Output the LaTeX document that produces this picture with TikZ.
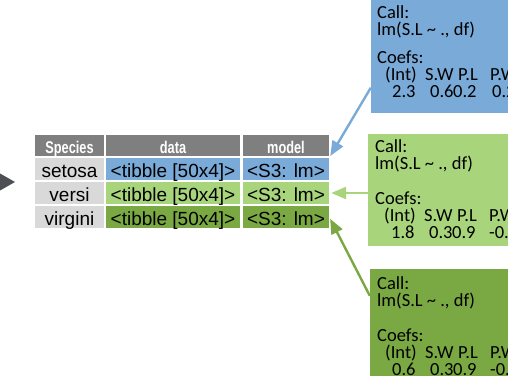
\documentclass[tikz,border=0pt]{standalone}
\usepackage{fontspec}
\setmainfont{Liberation Sans}
\newfontfamily\hdrfont[FakeStretch=0.75]{Liberation Sans}
\newfontfamily\outfont{Carlito}
\usetikzlibrary{positioning,arrows.meta}

\definecolor{fitblue}{RGB}{122,170,216}
\definecolor{fitlight}{RGB}{168,212,124}
\definecolor{fitdark}{RGB}{122,168,66}
\definecolor{hdrgray}{RGB}{127,127,127}
\definecolor{spgray}{RGB}{217,217,217}
\definecolor{pipegray}{RGB}{77,79,85}

\tikzset{
  cell/.style={inner sep=0pt,text height=19pt,text depth=3pt,minimum height=22pt,
    font=\fontsize{19}{19}\selectfont},
  hdr/.style={fill=hdrgray,text=white,inner sep=0pt,text height=18pt,text depth=3pt,
    minimum height=21pt,font=\hdrfont\bfseries\fontsize{17}{17}\selectfont},
  spcol/.style={cell,fill=spgray,minimum width=69pt},
  datacol/.style={cell,minimum width=134pt},
  modelcol/.style={cell,minimum width=86pt},
  fitbox/.style={inner sep=0pt,draw=none},
  outtxt/.style={anchor=base west,inner sep=0pt,font=\outfont\fontsize{18.5}{18.5}\selectfont},
  conn/.style={line width=2.4pt,-{Triangle[length=15pt,width=12pt]},shorten >=2pt},
}

\begin{document}
\begin{tikzpicture}[x=1pt,y=-1pt]
\useasboundingbox (0,0) rectangle (508,375);
\clip (0,0) rectangle (508,375);
%% pipe
\fill [pipegray] (-4,171.2) -- (15,182) -- (-4,192.8) -- cycle;
%% nested table
\node (sp-h) at (69.5,145.5) [hdr,minimum width=69pt] {Species};
\node (data-h) at (173,145.5) [hdr,minimum width=134pt] {data};
\node (model-h) at (286,145.5) [hdr,minimum width=86pt] {model};
\node (sp1) at (69.5,169) [spcol] {setosa};
\node (data1) at (173,169) [datacol,fill=fitblue] {<tibble [50x4]>};
\node (model1) at (286,169) [modelcol,fill=fitblue] {<S3: lm>};
\node (sp2) at (69.5,193) [spcol] {versi};
\node (data2) at (173,193) [datacol,fill=fitlight] {<tibble [50x4]>};
\node (model2) at (286,193) [modelcol,fill=fitlight] {<S3: lm>};
\node (sp3) at (69.5,217) [spcol] {virgini};
\node (data3) at (173,217) [datacol,fill=fitdark] {<tibble [50x4]>};
\node (model3) at (286,217) [modelcol,fill=fitdark] {<S3: lm>};
%% model outputs
\node (fit1) at (455.5,46.25) [fitbox,fill=fitblue,minimum width=169pt,minimum height=132.5pt] {};
\node (fit2) at (454,190) [fitbox,fill=fitlight,minimum width=172pt,minimum height=112pt] {};
\node (fit3) at (455,344.5) [fitbox,fill=fitdark,minimum width=170pt,minimum height=151pt] {};
%
\node (call1) at (377,18) [outtxt] {Call:};
\node (form1) at (377,35) [outtxt] {lm(S.L \textasciitilde{} ., df)};
\node (coef1) at (377,63) [outtxt] {Coefs:};
\node (int1) at (385,80) [outtxt] {(Int)};
\node (sw1) at (425,80) [outtxt] {S.W};
\node (pl1) at (458,80) [outtxt] {P.L};
\node (pw1) at (490,80) [outtxt] {P.W};
\node (v1a) at (392,97) [outtxt] {2.3};
\node (v1b) at (430,97) [outtxt] {0.6};
\node (v1c) at (453,97) [outtxt] {0.2};
\node (v1d) at (492,97) [outtxt] {0.2};
%
\node (call2) at (375,152) [outtxt] {Call:};
\node (form2) at (375,169) [outtxt] {lm(S.L \textasciitilde{} ., df)};
\node (coef2) at (375,204) [outtxt] {Coefs:};
\node (int2) at (384,221) [outtxt] {(Int)};
\node (sw2) at (424,221) [outtxt] {S.W};
\node (pl2) at (457,221) [outtxt] {P.L};
\node (pw2) at (489,221) [outtxt] {P.W};
\node (v2a) at (391,238) [outtxt] {1.8};
\node (v2b) at (429,238) [outtxt] {0.3};
\node (v2c) at (452,238) [outtxt] {0.9};
\node (v2d) at (489,238) [outtxt] {-0.7};
%
\node (call3) at (377,289) [outtxt] {Call:};
\node (form3) at (377,306) [outtxt] {lm(S.L \textasciitilde{} ., df)};
\node (coef3) at (377,341) [outtxt] {Coefs:};
\node (int3) at (385,358) [outtxt] {(Int)};
\node (sw3) at (425,358) [outtxt] {S.W};
\node (pl3) at (458,358) [outtxt] {P.L};
\node (pw3) at (490,358) [outtxt] {P.W};
\node (v3a) at (392,375) [outtxt] {0.6};
\node (v3b) at (430,375) [outtxt] {0.3};
\node (v3c) at (453,375) [outtxt] {0.9};
\node (v3d) at (490,375) [outtxt] {-0.2};
%% connectors
\draw [conn,fitblue] ([yshift=25pt]fit1.south west) -- (model1.north east);
\draw [conn,fitlight] ([yshift=-3pt]fit2.west) -- (model2.east);
\draw [conn,fitdark] ([yshift=-27pt]fit3.north west) -- (model3.east);
%
\end{tikzpicture}
\end{document}
